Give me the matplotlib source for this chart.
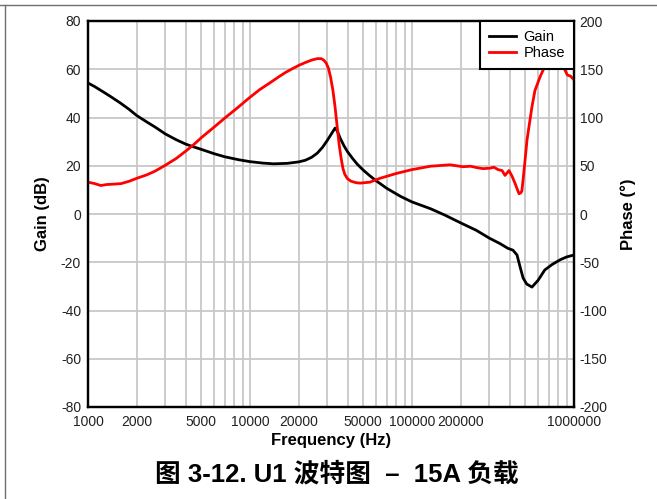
import matplotlib
matplotlib.use("Agg")
import matplotlib.pyplot as plt
from matplotlib.ticker import FixedLocator, LogLocator, NullFormatter
from matplotlib.lines import Line2D

plt.rcParams["font.family"] = ["Liberation Sans", "Noto Sans CJK SC", "DejaVu Sans"]
plt.rcParams["axes.unicode_minus"] = False

# Loop gain (dB) vs frequency (Hz)
gain_freq = [1000, 1100, 1250, 1400, 1600, 1800, 2000, 2300, 2600, 3000, 3500,
             4000, 4500, 5000, 6000, 7000, 8500, 10000, 12000, 14000, 17000,
             20000, 22000, 24000, 26000, 28000, 30000, 32000, 33500, 34500,
             36000, 38000, 40000, 43000, 46000, 50000, 55000, 60000, 70000,
             85000, 100000, 130000, 160000, 200000, 250000, 300000, 350000,
             390000, 420000, 445000, 465000, 485000, 510000, 550000, 600000,
             660000, 730000, 820000, 900000, 1000000]
gain_db = [54.3, 52.8, 50.5, 48.4, 45.8, 43.3, 40.8, 38.2, 36.0, 33.2, 30.8,
           29.0, 27.8, 26.8, 25.0, 23.7, 22.5, 21.7, 21.1, 20.8, 21.0,
           21.6, 22.3, 23.5, 25.2, 27.6, 30.5, 33.5, 35.6, 34.5,
           31.5, 28.3, 25.8, 23.0, 20.6, 18.2, 15.8, 13.8, 10.6,
           7.3, 5.0, 2.2, -0.5, -3.7, -6.8, -10.0, -12.3,
           -14.2, -15.0, -17.0, -22.0, -26.5, -29.0, -30.3, -27.5,
           -23.2, -21.0, -19.0, -17.8, -17.0]

# Loop phase (degrees) vs frequency (Hz)
phase_freq = [1000, 1100, 1200, 1300, 1450, 1600, 1800, 2000, 2300, 2600, 3000,
              3500, 4000, 4500, 5000, 6000, 7000, 8500, 10000, 11500, 13300,
              15000, 16500, 18000, 20000, 22000, 24000, 26000, 27500, 28500,
              29500, 30500, 31500, 32500, 33500, 34500, 35500, 36500, 37500,
              38500, 40000, 42000, 45000, 47800, 55000, 63500, 80000, 100000,
              130000, 172000, 206000, 230000, 252000, 275000, 303000, 320000,
              340000, 360000, 375000, 397000, 415000, 432000, 448000, 458000,
              470000, 477000, 495000, 513000, 550000, 574000, 617000, 644000,
              680000, 750000, 850000, 880000, 910000, 950000, 1000000]
phase_deg = [33, 31.5, 29.5, 30.5, 31, 31.5, 34, 37, 40.5, 44.5, 50.5,
             57.5, 65, 72, 79, 90, 99.5, 111, 121, 129, 136,
             142, 146.5, 150, 154, 157, 159.5, 161, 161, 159.5,
             156.5, 151, 141, 128, 111, 91, 72, 58, 47,
             41, 36.5, 34, 32.5, 32, 33, 37, 42, 46,
             49.5, 51, 49, 49.5, 48, 47, 47.5, 48.5,
             46, 45, 40, 45, 39, 32, 25, 21,
             22, 24, 50, 77, 111, 128, 142, 149,
             156, 160, 158, 149, 144, 143, 139]

xtick_values = [1000, 2000, 5000, 10000, 20000, 50000, 100000, 200000, 1000000]
xtick_labels = ["1000", "2000", "5000", "10000", "20000", "50000", "100000",
                "200000", "1000000"]
gain_ticks = list(range(-80, 81, 20))
phase_ticks = list(range(-200, 201, 50))

fig = plt.figure(figsize=(6.57, 4.99), dpi=100)
ax = fig.add_axes([88 / 657, 1 - 407 / 499, (574 - 88) / 657, (407 - 21) / 499])
ax2 = ax.twinx()

grid_color = "#c8c8c8"
ax.set_xscale("log")
ax.set_xlim(1000, 1000000)
ax.set_ylim(-80, 80)
ax2.set_ylim(-200, 200)

ax.xaxis.set_major_locator(FixedLocator(xtick_values))
ax.set_xticklabels(xtick_labels)
ax.xaxis.set_minor_locator(LogLocator(base=10, subs=range(2, 10)))
ax.xaxis.set_minor_formatter(NullFormatter())
ax.set_yticks(gain_ticks)
ax2.set_yticks(phase_ticks)

ax.set_axisbelow(True)
ax.grid(True, which="both", axis="x", color=grid_color, linewidth=1.3)
ax.grid(True, which="major", axis="y", color=grid_color, linewidth=1.3)

ax.tick_params(axis="both", which="both", length=0, labelsize=10, colors="#222222")
ax.tick_params(axis="y", pad=5)
ax.tick_params(axis="x", pad=6)
ax2.tick_params(axis="y", length=0, labelsize=10, pad=4, colors="#222222")

for a in (ax, ax2):
    for s in a.spines.values():
        s.set_linewidth(1.6)
        s.set_color("black")

gain_line, = ax.plot(gain_freq, gain_db, color="black", linewidth=2.0, label="Gain")
phase_line, = ax2.plot(phase_freq, phase_deg, color="#ff0000", linewidth=2.0, label="Phase")

leg = ax2.legend(handles=[gain_line, phase_line], loc="upper right",
                 bbox_to_anchor=(1.0, 1.0), borderaxespad=0.0, fancybox=False,
                 framealpha=1.0, edgecolor="black", fontsize=10.5,
                 handlelength=1.85, handletextpad=0.55, borderpad=0.6,
                 labelspacing=0.17)
leg.get_frame().set_linewidth(1.5)

fig.text(43 / 657, 1 - 214 / 499, "Gain (dB)", rotation=90, ha="center",
         va="center", fontsize=12, fontweight="bold")
fig.text(628 / 657, 1 - 214 / 499, "Phase (°)", rotation=90, ha="center",
         va="center", fontsize=12, fontweight="bold")
fig.text(331 / 657, 1 - 441 / 499, "Frequency (Hz)", ha="center", va="center",
         fontsize=12, fontweight="bold")
fig.text(337 / 657, 1 - 474 / 499, "图 3-12. U1 波特图  –  15A 负载", ha="center",
         va="center", fontsize=18.5, fontweight="bold",
         family=["Liberation Sans", "Noto Sans CJK SC"])

# thin frame lines along top and left edges
fig.add_artist(Line2D([0, 1], [1 - 4.5 / 499, 1 - 4.5 / 499], transform=fig.transFigure,
                      color="#707070", linewidth=1.0))
fig.add_artist(Line2D([4.5 / 657, 4.5 / 657], [0, 1 - 4.5 / 499], transform=fig.transFigure,
                      color="#707070", linewidth=1.0))

fig.savefig("out.png", dpi=100)
